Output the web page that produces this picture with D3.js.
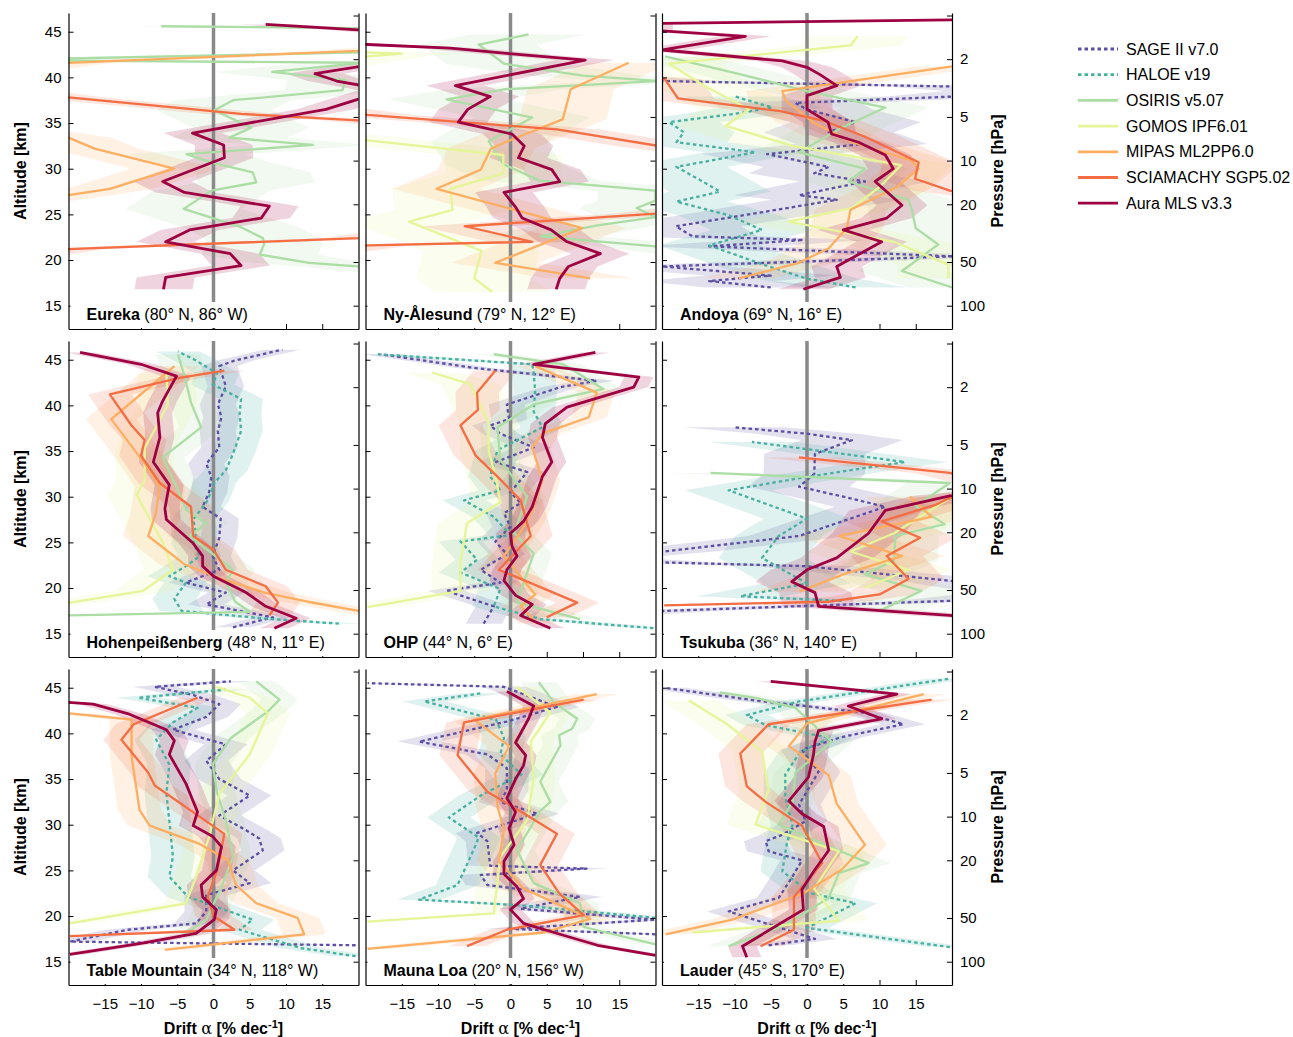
<!DOCTYPE html>
<html>
<head>
<meta charset="utf-8">
<script src="https://cdn.jsdelivr.net/npm/d3@7"></script>
<style>
  body { margin: 0; background: #fff; font-family: "Liberation Sans", Arial, sans-serif; }
</style>
</head>
<body>
<div class="d3-content"></div>
<script>
// instruments, in drawing order (bottom -> top)
const INSTRUMENTS = ['SAGE II v7.0', 'HALOE v19', 'OSIRIS v5.07', 'GOMOS IPF6.01',
                     'MIPAS ML2PP6.0', 'SCIAMACHY SGP5.02', 'Aura MLS v3.3'];
const COLORS = ['#5e4fa2', '#48b0a0', '#abdda4', '#e6f598', '#fdae61', '#f46d43', '#9e0142'];
const DOTTED = [true, true, false, false, false, false, false];

const STATIONS = ['Eureka', 'Ny-Ålesund', 'Andoya', 'Hohenpeißenberg', 'OHP', 'Tsukuba',
                  'Table Mountain', 'Mauna Loa', 'Lauder'];
const COORDS = ['(80° N, 86° W)', '(79° N, 12° E)', '(69° N, 16° E)', '(48° N, 11° E)',
                '(44° N, 6° E)', '(36° N, 140° E)', '(34° N, 118° W)', '(20° N, 156° W)',
                '(45° S, 170° E)'];

const ALT_TICKS = [15, 20, 25, 30, 35, 40, 45];
const DRIFT_TICKS = [-15, -10, -5, 0, 5, 10, 15];
const PRES_TICKS = [1, 2, 5, 10, 20, 50, 100];

// profiles: [altitude km, drift % per decade]
// --- Eureka
const eurekaOSIRIS = [[18.5,30],[19.3,19.9],[19.7,13.2],[20.6,6.4],[21.8,7.0],[22.4,6.8],[23.6,3.8],[25.6,-4.1],[27.6,-0.3],[28.5,5.9],[29.6,5.4],[30.7,-0.3],[31.6,-3.7],[32.6,13.7],[33.4,2.2],[34.5,5.2],[36.4,0.1],[37.5,2.7],[38.6,17.8],[39.7,18.2],[40.6,8.1],[41.6,20.5],[41.9,-30],[42.9,30],[45.3,30],[45.6,-7.2]];
const eurekaMIPAS = [[26.0,-30],[27.1,-20],[27.8,-14.3],[30.0,-5.4],[32.2,-16.4],[33.4,-20],[34.5,-30],[40.5,-30],[41.6,-20],[42.9,20],[43.5,30]];
const eurekaSCIA = [[20.0,-30],[21.2,-20],[22.4,20],[23.5,30],[34.5,30],[35.3,19.9],[36.0,3.8],[37.8,-20],[38.8,-30]];
const eurekaMLS = [[16.8,-6.9],[18.1,-6.6],[19.4,3.8],[20.7,2.3],[22.0,-6.6],[23.3,-3.3],[24.6,6.6],[25.9,7.7],[26.9,0],[27.4,-4],[28.6,-7],[31.2,1.5],[32.6,1.4],[33.9,-2.9],[36.5,15.5],[37.6,19.9],[38.6,24],[39.6,17],[40.4,14],[41.3,21],[42.5,30],[44.5,30],[45.2,20],[45.8,7.2]];
// --- Ny-Alesund
const nyOSIRIS = [[20.5,30],[21.5,20],[22.6,4.1],[23.8,12],[24.7,20],[25.7,17.4],[26.5,20],[27.6,20],[28.7,4],[30.5,-1],[33.0,-3],[35.6,3.0],[37.6,-8.8],[38.7,-0.9],[39.6,20.4],[40.2,10],[41.5,-0.9],[43.6,-4.4],[44.7,2.5]];
const nyGOMOS = [[16.5,-2.5],[18.0,-5],[21.0,-4],[24.2,-14],[25.5,-8],[27.8,-8.3],[29.5,-1],[31.5,-1],[33.1,-19.7],[34.0,-30],[41.0,-30],[42.3,-19.7],[42.6,-15],[43.0,-30]];
const nyMIPAS = [[18.0,11],[19.7,-2.1],[23.5,9.9],[27.8,-10.2],[29.9,-4.1],[32.2,-2.7],[33.2,0.2],[35.4,7.2],[38.7,8.3],[41.6,16.3]];
const nySCIA = [[20.5,-30],[21.6,-19.7],[22.0,3.0],[23.7,-6.3],[25.1,20.4],[26.0,30],[31.5,30],[32.5,20.4],[34.3,6.4],[35.9,-19.7],[37.0,-30]];
const nyMLS = [[16.8,6.3],[18.0,6.8],[19.3,8.0],[20.7,12.4],[22.0,7.8],[23.3,5.6],[24.6,1.6],[25.8,0.7],[27.4,-0.9],[28.6,6.8],[29.9,5.7],[31.2,1.1],[32.5,1.9],[33.8,0.2],[35.1,-7.2],[36.5,-5.9],[37.9,-2.8],[39.1,-7.6],[41.9,10.3],[42.6,-0.2],[43.2,-8.3],[43.6,-19.7],[44.0,-30]];
// --- Andoya
const andoyaSAGE = [[17.0,-5],[17.7,-13.5],[18.3,-5],[19.3,-20],[20.4,20.2],[21.5,-13.5],[22.2,-0.5],[22.6,-15.8],[23.7,-18.1],[25.0,-8],[26.6,4.1],[27.1,-1.1],[28.6,8.0],[29.5,1.0],[30.2,3.0],[31.6,-5.5],[32.7,7.6],[34.0,3],[35.1,6.7],[36.5,0],[37.2,-1.6],[37.9,20],[38.5,28],[39.0,20],[39.6,-20],[40.0,-30]];
const andoyaHALOE = [[17.0,6.7],[18.0,-0.2],[19.5,-6],[21.6,-13.5],[23.3,-6.2],[24.9,-10.8],[26.4,-18],[27.5,-12],[28.6,-14.4],[30.2,-18],[31.8,-7.1],[32.9,-18],[34.0,-17],[35.1,-19],[36.0,-10],[36.7,-4.8],[37.9,-9.9]];
const andoyaOSIRIS = [[17.0,20],[18.8,13.1],[21.7,18.1],[23.5,15],[25.7,14.4],[26.6,14],[28.6,5.7],[30.0,8],[31.8,-1.1],[34.5,4.8],[36.7,10.8],[38.5,0],[40.5,-10],[42.3,-19.6]];
const andoyaGOMOS = [[18.0,19.5],[19.5,19.5],[22.0,12],[24.2,-2.5],[25.7,6.2],[28.0,10],[30.4,13],[32.5,-2],[34.7,-11.2],[36.5,-8],[39.0,-14],[41.5,-19],[43.5,6],[44.5,7]];
const andoyaMIPAS = [[18.0,-9.4],[19.7,-1.1],[21.3,3.0],[23.5,5.5],[25.5,6],[28.0,12.4],[30.0,15.4],[30.9,14.4],[33.0,6],[35.0,1],[37.5,-3],[38.5,-3.4],[41.2,20]];
const andoyaSCIA = [[26.5,30],[27.6,19.7],[28.9,14.9],[30.7,15.4],[33.5,8.0],[35.2,2.5],[36.3,-3.7],[37.7,-17.8],[39.8,-19.6],[40.5,-30]];
const andoyaMLS = [[16.8,-0.5],[18.1,4.6],[19.3,4.1],[22.0,10.3],[23.3,5.0],[24.6,11],[26.0,13.1],[28.6,9.4],[30.0,11.9],[31.5,10.8],[32.9,7.1],[33.8,3.4],[35.1,2.9],[36.5,0],[38.0,0],[39.1,4.1],[40.3,1.8],[41.1,0],[41.8,-3.4],[43.0,-20],[44.5,-8.5],[45.2,-22],[45.9,-22],[46.3,20]];
// --- Hohenpeissenberg
const hohenSAGE = [[15.7,2.7],[16.8,8.2],[18.2,-1.0],[19.5,1.7],[20.6,-3.8],[22.0,0.8],[23.5,-0.1],[25.5,0.8],[27.6,1.0],[28.9,-1.5],[30.5,-0.6],[32.2,-0.3],[33.6,-1.0],[35.4,0.8],[37.2,0.6],[38.7,1.1],[40.1,0.6],[42.1,1.7],[44.3,0.8],[44.9,2.9],[46.1,9.5]];
const hohenHALOE = [[16.1,17.3],[16.6,8],[17.5,-4.4],[18.8,-5.4],[20.6,-3.8],[21.3,-6.1],[22.4,-3.8],[23.5,-1.9],[24.9,-2.8],[26.0,-2.4],[27.5,-2.8],[29.6,-0.8],[31.5,0.1],[32.9,1.7],[34.7,2.7],[37.2,3.8],[39.1,3.6],[40.7,3.8],[42.3,-0.1],[43.5,0.5],[45.0,-2.6],[45.9,-4.9]];
const hohenOSIRIS = [[16.8,-30],[17.0,-19.8],[17.4,5.0],[18.5,3],[20.6,1.7],[22.0,2.7],[25.7,-3.3],[27.1,-1.0],[28.6,-3.8],[31.1,-5.1],[34.3,-7],[37.6,-1.7],[40.3,-3.1],[43.2,-4],[45.6,-4.9]];
const hohenGOMOS = [[17.5,-30],[18.4,-19.8],[19.7,-9.7],[22.0,-5.6],[25.0,-7],[30.2,-10.6],[31.8,-9.5],[35.3,-9.5],[37.5,-8],[40.1,-6.3],[43.5,-6.5]];
const hohenMIPAS = [[16.2,30],[17.5,20],[18.5,13],[19.5,7],[21.2,0.4],[22.6,-4],[25.7,-9],[28.0,-8],[31.1,-7.4],[33.1,-9],[38.5,-14.1],[44.3,-5.4]];
const hohenSCIA = [[17.0,7.7],[18.4,8.9],[20.2,7.2],[22.0,1.7],[24.2,0],[25.7,-2.8],[28.9,-3.1],[31.5,-7.4],[34.5,-10],[36.2,-9.5],[37.8,-11.3],[41.2,-14.3],[43.0,-4.7],[43.8,1.5]];
const hohenMLS = [[15.6,8.4],[16.7,11.4],[18.0,7.2],[19.5,4.5],[21.3,0],[22.4,-1.5],[23.5,-1.5],[24.9,-2.8],[27.5,-6.5],[28.7,-6.7],[31.3,-6.1],[33.8,-8.3],[36.5,-7.4],[39.2,-7.7],[40.5,-7.0],[43.2,-5.1],[44.5,-10],[45.8,-18.4]];
// --- OHP
const ohpSAGE = [[16.1,-3.7],[18.0,-2.3],[19.7,-8.9],[20.6,-1.4],[22.0,-4.1],[23.7,-0.5],[25.1,-2.1],[26.7,0],[28.2,-0.9],[29.3,1.4],[30.5,0],[32.7,2.3],[33.8,-2],[35.4,3.2],[36.9,-1.4],[37.8,-2.8],[38.5,-0.2],[40.1,-0.5],[42.0,6.9],[42.7,11.9],[44.1,-5],[45.6,-17.9]];
const ohpHALOE = [[15.6,19.7],[16.6,4.1],[18.0,-2.3],[19.9,-1.4],[21.7,-6.9],[23.1,-4.6],[25.1,-6.9],[25.8,0],[27.8,-2.3],[29.6,-6.4],[30.7,-1.4],[32.2,-2.8],[35.1,-1.8],[37.6,4.4],[39.3,3.2],[41.6,3.4],[43.6,3.2],[44.5,3.0],[45.6,-18.3]];
const ohpOSIRIS = [[16.6,9.6],[18.4,0.9],[21.0,2],[23.8,3.2],[26.0,0.5],[30.0,2.3],[34.0,-1.4],[37.6,-1.8],[40.1,3.2],[41.8,12.8],[44.5,7.3],[45.6,-2.3]];
const ohpGOMOS = [[17.9,-19.7],[19.7,-6.9],[22.8,-6.9],[27.1,-6.0],[29.4,-1.4],[32.0,-2],[35.0,-3],[38.0,-3],[42.3,-5.5],[43.6,-10.8]];
const ohpMIPAS = [[16.1,3.7],[18.0,1.4],[19.3,3.4],[23.5,-0.9],[26.4,1.6],[28.5,3.0],[31.8,4.4],[35.4,3.0],[36.9,4.4],[38.7,10.8],[41.4,11.9],[44.3,3.4]];
const ohpSCIA = [[16.8,5.0],[18.4,9.2],[22.0,-1.6],[25.7,2.8],[29.6,1.4],[32.2,-1.8],[34.5,-4.8],[37.8,-6.9],[39.5,-4.5],[41.4,-4.6],[43.8,-2.1]];
const ohpMLS = [[15.6,5.5],[17.0,1.4],[18.2,3.0],[19.2,0.7],[20.8,-0.9],[22.0,-0.5],[23.5,0.9],[24.6,0.2],[26.0,0],[27.3,1.8],[28.9,3.0],[32.2,4.4],[33.8,5.7],[36.5,4.4],[38.0,4.8],[39.8,7.8],[42.0,17],[43.1,17.7],[44.5,3.2],[45.8,11.7]];
// --- Tsukuba
const tsukubaSAGE = [[17.0,-30],[17.5,-19.5],[18.6,19.7],[19.5,30],[20.8,19.7],[22.4,-0.2],[22.8,-19.7],[23.3,-30],[24.0,-19.7],[25.7,-1.1],[28.9,10.8],[30.0,5.0],[31.1,-1.1],[32.5,1],[34.7,1.1],[36.2,6.2],[36.9,0],[37.6,-10.1]];
const tsukubaHALOE = [[18.6,4.8],[19.1,-9.2],[20.5,0],[23.3,-6.2],[25.7,-3.9],[27.6,0],[30.7,-10.8],[32.2,0.2],[33.8,13.5],[36.0,-7.6]];
const tsukubaOSIRIS = [[17.5,10],[19.7,15.8],[21.5,8],[23.0,12],[25.7,12.2],[27.0,19],[29.0,15],[31.5,19.7],[32.6,-13.3]];
const tsukubaGOMOS = [[20.0,8],[22.0,14],[24.0,6],[26.0,12],[28.0,16],[30.0,20]];
const tsukubaMIPAS = [[19.6,-1.1],[21.5,5],[23.5,13.1],[25.7,4.4],[27.8,17.2],[30.0,14.2]];
const tsukubaSCIA = [[18.1,-19.7],[18.5,3],[19.3,10],[21.0,14],[23.5,11],[25.5,15.6],[27.3,10.3],[29.1,17.7],[29.8,19.5],[31.0,28],[32.6,19.7],[34.3,-1.1]];
const tsukubaMLS = [[16.5,30],[17.0,19.7],[18.0,1.6],[19.5,1.1],[20.7,-2.1],[22.0,0],[23.3,4.1],[26.0,8.5],[28.5,10.8],[30.1,19.7],[30.5,25]];
// --- Table Mountain
const tableSAGE = [[16.8,19.6],[17.2,-19.8],[18.5,-11.8],[19.2,-2.4],[20.5,-1],[22.3,-1.0],[23.6,5.0],[25.0,2.7],[27.2,6.8],[28.5,6.3],[29.4,4.5],[31.0,0.8],[33.2,5.0],[35.0,0.8],[37.0,-1.0],[38.8,1.7],[40.4,-5.6],[41.8,-1],[43.2,0.8],[44.2,-2.8],[45.1,-8.1],[45.7,2.4]];
const tableHALOE = [[15.6,19.6],[16.5,12],[18.5,3.6],[19.6,5.4],[21.4,-1.0],[22.1,-3.5],[24.3,-6.1],[26.5,-5.6],[30.5,-6.1],[33.4,-6.5],[36.6,-6.1],[39.3,-7.9],[41.2,-5.6],[42.8,-2.2],[43.9,-10.4],[44.8,1.7]];
const tableOSIRIS = [[17.8,-4.4],[19.6,-1.0],[23.0,1],[26.5,2.7],[30.5,1.7],[33.5,0.5],[36.6,-0.1],[39.5,2.4],[42.4,7.5],[43.7,9.1],[45.7,5.9]];
const tableGOMOS = [[19.2,-19.8],[21.4,-3.8],[24.3,-2.4],[28.7,-0.6],[33.4,0.8],[37.7,5.0],[42.2,7.5],[43.9,5.0],[45.1,0.4]];
const tableMIPAS = [[16.3,-6.7],[18.0,12.5],[19.8,11.6],[21.4,5.9],[23.4,3.1],[26.1,2.0],[27.9,-1.9],[29.9,-8.8],[31.6,-10.2],[37.5,-11.3],[41.5,-11.3],[42.2,-19.8]];
const tableSCIA = [[17.8,-19.8],[18.5,2.9],[20.0,0],[22.1,-0.8],[25.0,0.5],[29.0,1.5],[34.3,-8.1],[35.7,-9],[39.3,-12.7],[41.0,-11],[43.9,-2.2]];
const tableMLS = [[15.8,-19.8],[17.0,-10],[18.1,-2.4],[19.6,0.1],[20.7,0.4],[22.1,-1.5],[23.4,-1.7],[25.0,0.4],[27.6,1.1],[28.7,-0.1],[29.9,-2.8],[31.4,-2.2],[34.5,-3.8],[37.7,-6.1],[39.2,-5.4],[40.4,-6.5],[42.1,-11.6],[43.2,-16.6],[43.4,-20]];
// --- Mauna Loa
const maunaSAGE = [[18.0,20],[18.6,-0.5],[19.6,20],[20.8,1.4],[22.1,9.6],[23.4,-3.2],[24.5,-4.1],[25.2,10.5],[25.5,-2.8],[28.2,-3.2],[29.1,-4.6],[31.2,3.7],[32.5,-1.4],[33.8,-0.5],[36.2,-0.5],[37.7,-3.2],[39.1,-12.6],[41.3,-0.5],[42.9,6.4],[45.1,-0.9],[45.5,-19.7]];
const maunaHALOE = [[19.8,20],[21.2,0.9],[21.8,-12.6],[23.4,-7.3],[27.4,-5.0],[28.6,-4.4],[30.8,-8.5],[33.2,-4.1],[35.5,1.5],[37.7,-1.4],[39.5,-0.9],[41.5,-2],[43.5,-11.9],[44.4,-3.9]];
const maunaOSIRIS = [[16.9,20],[18.8,10.1],[21.4,9.6],[23.6,3.2],[27.2,0.9],[31.5,4.1],[32.5,5.5],[34.7,4.1],[38.7,6.9],[39.8,6.7],[40.5,8.5],[41.6,9.2],[43.4,6.0],[45.6,3.9]];
const maunaGOMOS = [[19.4,-19.7],[20.3,-2.3],[26.5,-1.4],[30.5,2.3],[35.1,3.2],[39.1,2.8],[42.3,5.5],[45.1,0.9]];
const maunaMIPAS = [[16.4,-19.7],[18.2,4.6],[19.7,11.0],[23.0,1.8],[26.0,-1.6],[29.5,-0.9],[32.0,-1.8],[35.6,-2.1],[38.6,-0.2],[41.5,-5.0],[44.3,11.9]];
const maunaSCIA = [[16.7,-6],[18.5,-0.5],[20.1,10.1],[22.5,6.7],[25.6,4.1],[29.0,6.4],[31.8,0.7],[33.6,-3.2],[37.6,-7.3],[41.2,-6.4],[43.7,10.1]];
const maunaMLS = [[15.7,20],[16.8,12],[18.2,6],[19.2,1.8],[20.7,0],[21.9,1.8],[23.2,0.9],[24.6,-0.9],[26.0,-0.9],[27.8,0.5],[29.6,-0.2],[31.4,0.7],[32.9,-0.5],[35.0,0.7],[36.5,1.8],[37.6,2.1],[39.0,0.7],[41.6,2.5],[43.0,3.2],[44.6,-0.5]];
// --- Lauder
const lauderSAGE = [[16.8,-5.3],[17.5,1.1],[20.5,-10.8],[22.0,-3.9],[24.2,-2.1],[26.1,-0.7],[27.1,-5.3],[28.2,-5.7],[28.9,-3.4],[30.4,-0.2],[32.2,-1.1],[35.8,1.6],[38.2,-0.7],[39.6,4.8],[41.0,13.3],[42.3,7.6],[43.6,-7.1],[45.0,-19.7]];
const lauderHALOE = [[16.6,19.7],[18.7,0],[21.4,6.7],[22.5,0.5],[24.9,-3.4],[27.9,-2.8],[30.0,-2],[33.0,-3.0],[35.5,-3.0],[38.0,-0.9],[39.5,3.2],[40.9,-5.7],[42.0,-8.3],[43.5,-1.1],[46.0,19.7]];
const lauderOSIRIS = [[16.7,-10.8],[19.0,-3],[22.0,3],[24.7,4.4],[25.8,8.5],[28.0,2],[30.0,-3.9],[32.5,-2],[35.7,-1.6],[39.1,3.4],[42.8,-1.6],[43.9,-7.1],[44.5,-12]];
const lauderGOMOS = [[18.2,-15.8],[19.5,4.4],[23.0,1],[27.1,4.4],[30.0,-7.1],[33.8,-5.3],[38.0,-6.2],[41.0,-11],[43.6,-16.3]];
const lauderMIPAS = [[18.0,-19.5],[19.6,-10.3],[22.5,-0.5],[25.1,4.8],[27.8,8.0],[32.3,4.1],[35.4,3.0],[37.6,-0.7],[38.6,-2.5],[41.1,0],[44.3,16.1]];
const lauderSCIA = [[16.7,-6.4],[18.5,-1.8],[22.1,-1.8],[25.8,2.1],[29.9,-0.7],[32.5,-5.7],[34.2,-8.3],[37.8,-9.2],[41.0,-5.3],[43.7,17.2]];
const lauderMLS = [[15.5,-8.3],[16.7,-8.9],[20.7,-0.5],[22.9,-0.7],[25.1,1.1],[27.2,3.0],[29.8,2.3],[31.2,-0.7],[32.6,-2.5],[35.2,0.2],[37.7,0.9],[39.1,1.1],[40.3,1.6],[41.6,10.3],[43.0,5.7],[44.3,12.4],[45.7,-5.0]];

// profiles per station, in INSTRUMENTS order
const PROFILES = [
  [null, null, eurekaOSIRIS, null, eurekaMIPAS, eurekaSCIA, eurekaMLS],
  [null, null, nyOSIRIS, nyGOMOS, nyMIPAS, nySCIA, nyMLS],
  [andoyaSAGE, andoyaHALOE, andoyaOSIRIS, andoyaGOMOS, andoyaMIPAS, andoyaSCIA, andoyaMLS],
  [hohenSAGE, hohenHALOE, hohenOSIRIS, hohenGOMOS, hohenMIPAS, hohenSCIA, hohenMLS],
  [ohpSAGE, ohpHALOE, ohpOSIRIS, ohpGOMOS, ohpMIPAS, ohpSCIA, ohpMLS],
  [tsukubaSAGE, tsukubaHALOE, tsukubaOSIRIS, tsukubaGOMOS, tsukubaMIPAS, tsukubaSCIA, tsukubaMLS],
  [tableSAGE, tableHALOE, tableOSIRIS, tableGOMOS, tableMIPAS, tableSCIA, tableMLS],
  [maunaSAGE, maunaHALOE, maunaOSIRIS, maunaGOMOS, maunaMIPAS, maunaSCIA, maunaMLS],
  [lauderSAGE, lauderHALOE, lauderOSIRIS, lauderGOMOS, lauderMIPAS, lauderSCIA, lauderMLS]
];

// drift uncertainty (% per decade) per station, INSTRUMENTS order
const UNCERTAINTY = [
  [0, 0, 8, 8, 6, 5, 4],
  [0, 0, 8, 8, 6, 6, 4],
  [9, 7, 6, 7, 5, 5, 3.5],
  [2.5, 3, 3, 4, 3.5, 3, 2],
  [2.5, 3, 2.5, 4, 2.5, 3, 2],
  [7, 6, 6, 6, 6, 5, 5],
  [3, 3, 2.5, 3, 3, 2.5, 2],
  [3, 3, 2.5, 3, 3, 2.5, 1.5],
  [3, 3, 3, 4, 3, 3, 2]
];

// layout
const SVG_WIDTH = 1293, SVG_HEIGHT = 1037;
const PANEL_W = 290, PANEL_H = 316;
const COL_X = [68.5, 365.5, 662];
const ROW_Y = [13, 341, 669];

const svg = d3.select('.d3-content')
  .append('svg')
  .attr('width', SVG_WIDTH)
  .attr('height', SVG_HEIGHT)
  .style('font-family', '"Liberation Sans", Arial, sans-serif');

svg.append('defs').append('clipPath')
  .attr('id', 'panel-clip')
  .append('rect')
  .attr('width', PANEL_W)
  .attr('height', PANEL_H);

const xscale = d3.scaleLinear().domain([-20, 20]).range([0, PANEL_W]);
const yscale = d3.scaleLinear().domain([12.45, 47.05]).range([PANEL_H, 0]);

// pressure axis: ~7 km scale height, 100 hPa at 15 km
const pressureAt = z => 100 * Math.exp(-(z - 15) / 6.9);
const pscale = d3.scaleLog()
  .domain([pressureAt(12.45), pressureAt(47.05)])
  .range([PANEL_H, 0]);

const lineGen = d3.line()
  .x(d => xscale(d[1]))
  .y(d => yscale(d[0]));

function styleAxis(g) {
  g.selectAll('path.domain').attr('stroke', '#000').attr('stroke-width', 1.2);
  g.selectAll('.tick line').attr('stroke', '#000');
  g.selectAll('.tick text')
    .attr('font-size', 15)
    .attr('font-family', '"Liberation Sans", Arial, sans-serif')
    .attr('fill', '#000');
}

STATIONS.forEach((name, s) => {
  const col = s % 3, row = Math.floor(s / 3);
  const chart = svg.append('g')
    .attr('transform', `translate(${COL_X[col]}, ${ROW_Y[row]})`);

  const inner = chart.append('g').attr('clip-path', 'url(#panel-clip)');

  // uncertainty bands
  PROFILES[s].forEach((prof, i) => {
    if (!prof) return;
    const u = UNCERTAINTY[s][i];
    const area = d3.area()
      .y(d => yscale(d[0]))
      .x0(d => xscale(d[1] - u))
      .x1(d => xscale(d[1] + u));
    inner.append('path')
      .datum(prof)
      .attr('d', area)
      .attr('fill', COLORS[i])
      .attr('fill-opacity', 0.17)
      .attr('stroke', 'none');
  });

  // zero drift line
  inner.append('line')
    .attr('x1', xscale(0)).attr('x2', xscale(0))
    .attr('y1', 0).attr('y2', PANEL_H)
    .attr('stroke', '#8a8a8a')
    .attr('stroke-width', 3.5);

  // drift profiles
  PROFILES[s].forEach((prof, i) => {
    if (!prof) return;
    inner.append('path')
      .datum(prof)
      .attr('d', lineGen)
      .attr('fill', 'none')
      .attr('stroke', COLORS[i])
      .attr('stroke-width', i === 6 ? 2.8 : 2.3)
      .attr('stroke-linejoin', 'round')
      .attr('stroke-dasharray', DOTTED[i] ? '3.5,3' : null);
  });

  // axes with inward ticks
  chart.append('g')
    .call(d3.axisLeft(yscale).tickValues(ALT_TICKS).tickSizeInner(-5).tickSizeOuter(0)
      .tickPadding(7).tickFormat(col === 0 ? d3.format('d') : () => ''))
    .call(styleAxis);

  chart.append('g')
    .attr('transform', `translate(0, ${PANEL_H})`)
    .call(d3.axisBottom(xscale).tickValues(DRIFT_TICKS).tickSizeInner(-5).tickSizeOuter(0)
      .tickPadding(13).tickFormat(row === 2 ? d3.format('d') : () => ''))
    .call(styleAxis);

  chart.append('g')
    .attr('transform', `translate(${PANEL_W}, 0)`)
    .call(d3.axisRight(pscale).tickValues(PRES_TICKS).tickSizeInner(-5).tickSizeOuter(0)
      .tickPadding(8).tickFormat(d => (col === 2 && d !== 1) ? d : ''))
    .call(styleAxis);

  // station label on a white box
  const labelBox = chart.append('rect')
    .attr('fill', '#fff')
    .attr('y', PANEL_H - 27)
    .attr('height', 26);
  const label = chart.append('text')
    .attr('x', 18)
    .attr('y', PANEL_H - 9)
    .attr('font-size', 16)
    .attr('fill', '#000');
  label.append('tspan').attr('font-weight', 'bold').text(name);
  label.append('tspan').text(' ' + COORDS[s]);
  const tw = label.node().getComputedTextLength();
  labelBox.attr('x', 2).attr('width', tw + 26);

  // x-axis title
  if (row === 2) {
    const t = svg.append('text')
      .attr('x', COL_X[col] + xscale(0) + 10)
      .attr('y', ROW_Y[row] + PANEL_H + 49)
      .attr('text-anchor', 'middle')
      .attr('font-size', 16)
      .attr('font-weight', 'bold');
    t.append('tspan').text('Drift ');
    t.append('tspan').attr('font-weight', 'normal').attr('font-family', '"DejaVu Serif", serif').text('α');
    t.append('tspan').text(' [% dec');
    t.append('tspan').attr('font-size', 11).attr('dy', -6).text('-1');
    t.append('tspan').attr('dy', 6).text(']');
  }
});

// row titles
ROW_Y.forEach(top => {
  svg.append('text')
    .text('Altitude [km]')
    .attr('transform', `translate(26, ${top + PANEL_H / 2}) rotate(-90)`)
    .attr('text-anchor', 'middle')
    .attr('font-size', 16)
    .attr('font-weight', 'bold');
  svg.append('text')
    .text('Pressure [hPa]')
    .attr('transform', `translate(1003, ${top + PANEL_H / 2}) rotate(-90)`)
    .attr('text-anchor', 'middle')
    .attr('font-size', 16)
    .attr('font-weight', 'bold');
});

// legend
const legend = svg.append('g').attr('transform', 'translate(1078, 49)');
INSTRUMENTS.forEach((name, i) => {
  const g = legend.append('g').attr('transform', `translate(0, ${i * 25.7})`);
  g.append('line')
    .attr('x1', 0).attr('x2', 40)
    .attr('stroke', COLORS[i])
    .attr('stroke-width', 2.8)
    .attr('stroke-dasharray', DOTTED[i] ? '3.5,3' : null);
  g.append('text')
    .attr('x', 48)
    .attr('dy', '0.35em')
    .attr('font-size', 16)
    .text(name);
});
</script>
</body>
</html>
